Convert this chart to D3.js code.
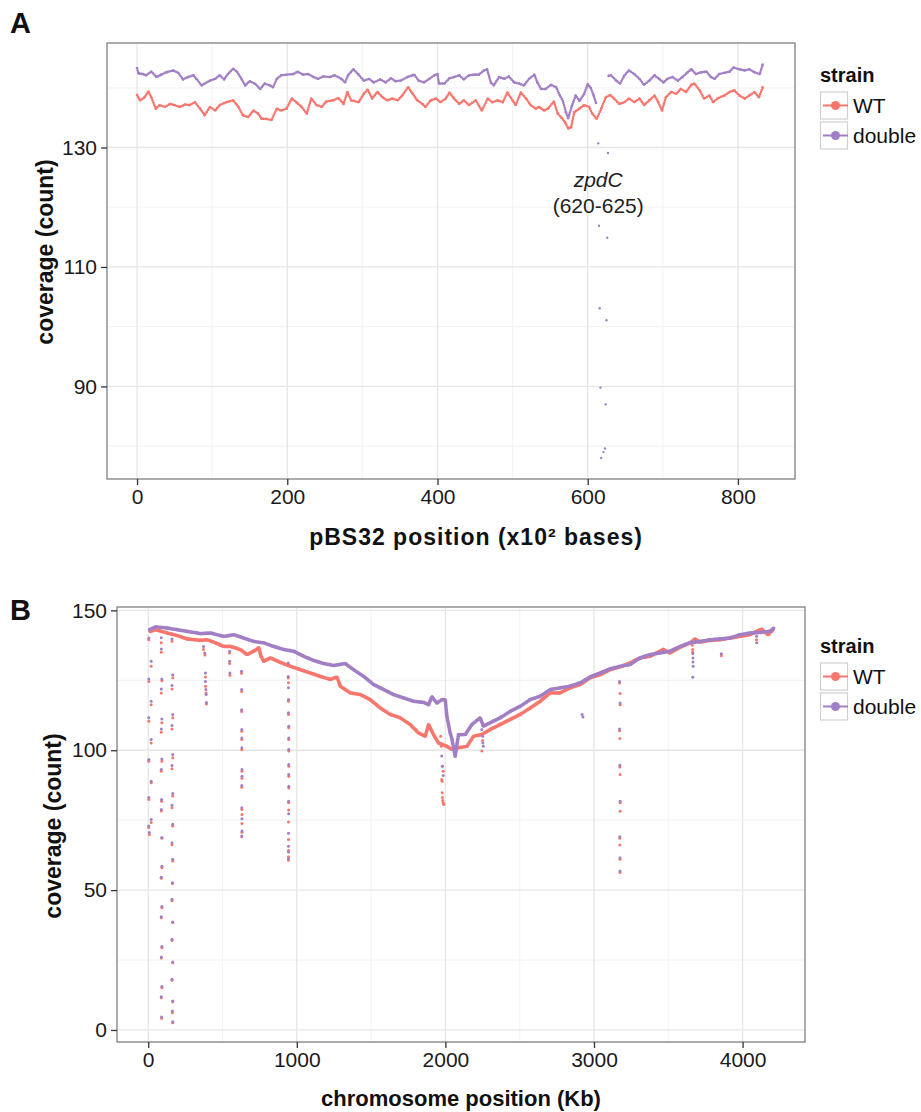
<!DOCTYPE html>
<html>
<head>
<meta charset="utf-8">
<script src="https://cdn.jsdelivr.net/npm/d3@7"></script>
<style>
  body { margin: 0; background: #fff; }
  text { font-family: "Liberation Sans", Arial, Helvetica, sans-serif; }
</style>
</head>
<body>
<svg id="fig" width="921" height="1112"></svg>
<script>
// ---------- shared ----------
const strainNames = ["WT", "double"];
const strainColors = ["#F8766D", "#A27EC4"];

// ---------- panel A: pBS32 plasmid coverage, position in x10^2 bases ----------
const plasmidTicksX = [0, 200, 400, 600, 800];
const plasmidMinorX = [100, 300, 500, 700];
const plasmidTicksY = [90, 110, 130];
const plasmidMinorY = [80, 100, 120, 140];

const plasmidWT = [
  [0,138.8],[4,137.9],[10,138.4],[15,139.4],[19,138.4],[25,136.5],[30,137.1],[37,136.8],[44,137.3],[50,137.1],
  [57,136.8],[64,137.2],[70,137.1],[77,137.6],[84,136.5],[90,135.4],[97,136.8],[104,136.2],[110,137.1],[119,137.6],
  [128,137.9],[135,136.8],[141,135.4],[148,135.1],[155,136.2],[161,135.7],[166,134.8],[172,134.8],[179,134.6],[186,136.5],
  [192,136.2],[199,136.5],[206,138.2],[212,137.6],[219,136.8],[226,135.7],[232,138.2],[239,137.1],[246,136.8],[252,137.7],
  [261,137.9],[268,138.3],[275,137.3],[280,139.3],[285,137.9],[295,137.6],[302,139.0],[307,139.7],[313,138.2],[320,139.3],
  [327,138.4],[333,137.9],[340,138.2],[347,137.9],[353,138.7],[361,140.1],[367,139.0],[373,137.9],[380,137.3],[384,136.8],
  [391,137.9],[398,138.2],[404,137.6],[411,138.2],[416,139.2],[422,138.2],[429,137.3],[435,137.9],[442,137.1],[451,137.9],
  [459,136.2],[467,138.2],[473,137.6],[480,137.9],[487,137.6],[493,139.2],[500,137.9],[504,137.1],[511,139.2],[518,138.2],
  [524,137.1],[531,136.5],[535,136.8],[542,136.2],[547,136.5],[555,137.7],[560,135.7],[565,135.0],[570,134.2],[574,133.2],
  [578,133.4],[582,135.9],[589,136.5],[595,137.1],[602,136.8],[606,135.7],[612,134.8],[618,136.5],[624,138.4],[630,138.8],
  [635,138.2],[642,137.3],[649,137.6],[655,138.2],[662,137.6],[669,138.2],[675,137.1],[682,137.9],[689,138.7],[694,137.6],
  [699,136.2],[704,138.4],[711,139.3],[718,139.0],[724,139.8],[731,139.3],[738,140.5],[742,140.7],[749,139.6],[755,138.2],
  [762,138.7],[767,137.6],[774,138.3],[782,138.7],[789,139.3],[795,139.6],[802,138.7],[809,138.2],[815,138.7],[822,139.3],
  [828,138.4],[833,140.1]
];

const plasmidDouble = [
  [0,143.3],[2,142.4],[8,142.3],[12,142.1],[19,142.7],[26,141.8],[32,142.2],[39,142.6],[48,142.9],[55,142.5],
  [61,141.4],[68,141.8],[75,142.1],[79,141.5],[86,140.4],[90,140.7],[97,141.2],[104,141.5],[110,142.1],[116,141.4],
  [121,142.3],[128,143.2],[133,142.7],[139,141.5],[144,140.4],[150,141.1],[157,140.7],[164,139.8],[170,140.7],[177,140.4],
  [181,140.1],[186,141.5],[192,142.1],[199,142.2],[208,142.3],[214,142.7],[221,142.2],[228,142.3],[235,141.8],[241,141.5],
  [248,141.9],[257,141.8],[263,142.1],[272,141.5],[277,140.9],[281,142.1],[288,143.1],[295,142.2],[302,141.2],[309,141.5],
  [315,140.9],[324,141.4],[331,140.9],[338,141.6],[344,141.1],[351,141.2],[360,141.8],[369,142.2],[375,141.2],[382,140.9],
  [389,141.5],[396,142.1],[400,142.3],[402,140.7],[409,140.7],[416,141.6],[422,141.8],[429,142.1],[435,141.4],[442,142.1],
  [449,142.2],[455,142.2],[462,142.9],[466,143.1],[471,140.9],[475,140.4],[482,141.8],[489,141.5],[495,141.9],[502,140.9],
  [509,140.7],[515,140.4],[522,141.5],[529,142.2],[533,140.9],[538,139.8],[544,139.8],[551,140.5],[558,140.1],[563,138.7],
  [567,137.8],[571,135.9],[574,134.9],[579,137.0],[584,138.7],[589,137.8],[595,138.9],[600,140.6],[604,140.0],[608,138.7],
  [611,137.5],
  [628,142.0],[631,142.1],[638,141.2],[643,140.7],[649,142.1],[655,142.9],[662,142.3],[669,141.5],[675,140.5],[682,141.2],
  [689,142.1],[695,141.5],[701,140.9],[706,141.5],[713,141.8],[720,141.2],[726,141.8],[733,142.6],[738,143.1],[744,142.3],
  [751,142.6],[758,142.7],[764,141.8],[769,141.5],[775,142.3],[782,142.5],[789,142.7],[794,143.4],[802,143.1],[809,142.9],
  [815,143.1],[822,142.6],[829,142.3],[833,143.9]
];

// zpdC deletion: scattered low-coverage reads in the double strain
const plasmidDoubleDip = [
  [614,130.7],[627,129.1],[615,116.9],[626,114.9],[616,103.1],[625,101.1],[617,89.8],[624,87.0],
  [623,79.6],[621,79.0],[618,78.0]
];

// ---------- panel B: chromosome coverage, position in Kb ----------
const chromTicksX = [0, 1000, 2000, 3000, 4000];
const chromMinorX = [500, 1500, 2500, 3500];
const chromTicksY = [0, 50, 100, 150];
const chromMinorY = [25, 75, 125];

const chromWT = [
  [15,142.5],[49,143.1],[128,141.9],[195,141.0],[262,139.8],[352,139.3],[397,139.5],[452,138.4],[508,137.1],[553,137.1],
  [620,136.0],[665,134.2],[710,135.4],[744,136.6],[760,133.5],[777,131.8],[822,133.0],[890,131.4],[957,130.0],[1024,128.8],
  [1091,127.6],[1158,126.4],[1226,125.3],[1270,126.2],[1293,122.9],[1360,120.5],[1427,119.9],[1494,118.1],[1562,115.1],[1629,112.8],
  [1696,111.6],[1763,109.2],[1819,106.2],[1864,105.0],[1887,109.2],[1920,105.6],[1954,102.6],[2010,101.4],[2044,100.3],[2088,100.9],
  [2145,101.4],[2189,105.0],[2245,105.6],[2301,107.4],[2369,109.2],[2436,111.0],[2503,112.8],[2570,115.1],[2638,117.5],[2705,120.5],
  [2772,120.5],[2839,122.3],[2907,123.5],[2974,125.9],[3041,127.0],[3108,128.8],[3175,129.8],[3242,131.2],[3310,133.0],[3377,133.6],
  [3466,136.0],[3511,134.8],[3579,136.8],[3646,138.4],[3680,139.8],[3713,138.6],[3780,139.3],[3847,139.5],[3914,140.1],[3982,140.7],
  [4049,141.3],[4127,143.3],[4172,141.3],[4205,143.1]
];

const chromDouble = [
  [10,143.1],[49,144.1],[128,143.7],[195,143.1],[262,142.5],[352,141.7],[419,141.9],[508,140.7],[576,141.3],[643,140.1],
  [710,138.9],[777,138.4],[845,137.1],[912,136.0],[979,135.4],[1046,133.6],[1113,132.1],[1181,131.0],[1248,130.3],[1326,131.0],
  [1382,128.8],[1450,126.4],[1517,123.5],[1584,121.7],[1651,119.9],[1719,118.7],[1786,117.5],[1853,117.1],[1887,116.3],[1909,119.1],
  [1943,116.9],[1977,118.1],[1999,118.0],[2010,112.1],[2032,106.2],[2044,104.0],[2066,97.9],[2088,105.6],[2133,105.6],[2178,109.2],
  [2234,111.6],[2256,108.6],[2301,109.8],[2369,111.6],[2436,113.9],[2503,115.7],[2570,118.1],[2638,119.3],[2705,121.7],[2772,122.3],
  [2839,122.9],[2907,124.1],[2974,126.2],[3041,127.6],[3108,129.1],[3175,130.0],[3242,130.6],[3310,133.0],[3377,134.2],[3444,134.8],
  [3511,135.4],[3579,137.1],[3646,138.4],[3713,138.9],[3780,139.5],[3847,139.8],[3914,140.1],[3982,141.3],[4049,141.9],[4116,142.1],
  [4183,142.5],[4211,143.7]
];

// low-coverage loci (deletions / repeats) seen in both strains
const chromDipWT = [
  [4,139.5],[20,130.0],[4,124.6],[20,116.3],[4,110.4],[20,102.6],[4,96.1],[20,88.4],[4,82.4],[20,74.2],[4,72.4],[8,69.9],
  [88,138.4],[88,135.0],[92,124.8],[88,120.5],[92,109.8],[88,106.4],[92,96.1],[88,92.5],[90,81.8],[88,78.3],[92,68.5],[92,58.0],
  [88,54.2],[92,43.7],[88,40.1],[92,29.4],[88,25.7],[92,15.1],[88,11.5],[90,4.2],
  [160,139.0],[165,125.9],[160,121.9],[165,111.6],[160,107.6],[165,97.3],[160,93.4],[165,83.6],[160,79.4],[165,72.9],[160,66.2],
  [165,60.4],[163,52.4],[160,46.2],[165,38.4],[160,32.0],[165,24.0],[160,17.8],[165,10.1],[163,6.2],[165,2.6],
  [372,136.0],[382,134.0],[385,126.2],[386,122.9],[388,120.5],[392,116.5],
  [548,134.8],[548,131.0],[550,126.8],
  [628,127.5],[629,121.0],[629,113.8],[630,106.8],[630,103.8],[630,100.2],[631,92.5],[631,90.0],[630,86.8],[630,78.8],
  [631,77.0],[631,73.8],[631,70.7],[630,69.1],
  [942,130.5],[942,125.8],[944,124.1],[944,117.5],[944,112.8],[946,108.0],[946,103.8],[946,99.7],[946,94.3],[946,90.7],
  [946,86.5],[945,81.2],[945,78.6],[944,74.3],[944,68.1],[944,64.2],[944,61.9],[944,60.7],
  [1968,105.0],[1972,101.4],[1980,94.3],[1985,92.5],[1978,88.9],[1975,89.5],[1978,84.8],[1980,83.1],[1982,82.0],[1985,81.2],[1988,80.6],
  [2245,99.7],[2250,103.5],
  [3172,124.0],[3176,120.3],[3176,116.3],[3172,107.0],[3174,104.2],[3174,94.0],[3176,91.3],[3176,81.2],[3176,78.2],[3174,68.5],
  [3174,66.1],[3175,61.0],[3175,56.3],
  [3662,137.5],[3664,136.0],[3664,135.0],
  [3857,133.8],
  [4094,139.5]
];

const chromDipDouble = [
  [4,140.1],[20,131.8],[4,125.5],[20,117.5],[4,111.6],[20,103.8],[4,96.7],[20,88.9],[4,83.1],[20,75.2],[4,72.9],[8,70.6],
  [88,140.2],[88,136.2],[92,125.5],[88,121.9],[92,111.2],[88,107.6],[92,96.9],[88,93.1],[90,82.4],[88,78.8],[92,68.8],[92,58.5],
  [88,54.6],[92,44.1],[88,40.5],[92,29.8],[88,26.1],[92,15.5],[88,11.9],[90,4.6],
  [160,139.8],[165,127.0],[160,123.1],[165,112.8],[160,108.8],[165,98.5],[160,94.5],[165,84.5],[160,80.3],[165,73.5],[160,66.9],
  [165,61.0],[163,52.6],[160,46.7],[165,38.6],[160,32.4],[165,24.3],[160,18.1],[165,10.4],[163,6.8],[165,2.9],
  [372,137.1],[380,134.8],[385,127.6],[385,124.6],[388,121.7],[390,119.9],[392,117.1],
  [548,135.4],[548,131.8],[550,127.6],
  [628,128.2],[629,121.7],[629,114.5],[630,107.4],[630,104.4],[630,100.9],[631,93.1],[631,90.7],[630,87.4],[630,79.4],
  [631,75.5],[631,71.1],[630,69.3],
  [942,131.2],[942,126.4],[944,122.3],[944,118.1],[944,113.4],[946,108.6],[946,104.4],[946,100.3],[946,94.9],[946,91.3],
  [946,87.1],[945,81.8],[945,77.3],[944,70.3],[944,65.7],[944,63.6],[944,61.2],
  [1975,97.9],[1980,94.3],[1985,91.0],
  [2245,107.4],[2250,105.0],[2252,102.6],[2255,101.4],
  [2920,112.8],[2926,111.9],
  [3172,124.6],[3176,116.9],[3172,107.6],[3174,94.6],[3176,81.8],[3174,69.1],[3175,61.6],[3175,56.8],
  [3665,134.5],[3666,133.0],[3666,131.5],[3667,130.0],[3665,126.1],
  [3857,134.5],
  [4094,140.7],[4095,138.4]
];

// ---------- drawing ----------
const svg = d3.select("#fig");
svg.append("rect").attr("width", 921).attr("height", 1112).attr("fill", "#fff");

function drawPanel(cfg) {
  const g = svg.append("g");
  const x = d3.scaleLinear().domain(cfg.xDomain).range([cfg.left, cfg.right]);
  const y = d3.scaleLinear().domain(cfg.yDomain).range([cfg.bottom, cfg.top]);

  // grid
  const grid = g.append("g");
  cfg.xMinor.forEach(v => grid.append("line").attr("x1", x(v)).attr("x2", x(v))
    .attr("y1", cfg.top).attr("y2", cfg.bottom).attr("stroke", "#f4f4f4").attr("stroke-width", 1.2));
  cfg.yMinor.forEach(v => grid.append("line").attr("y1", y(v)).attr("y2", y(v))
    .attr("x1", cfg.left).attr("x2", cfg.right).attr("stroke", "#f4f4f4").attr("stroke-width", 1.2));
  cfg.xTicks.forEach(v => grid.append("line").attr("x1", x(v)).attr("x2", x(v))
    .attr("y1", cfg.top).attr("y2", cfg.bottom).attr("stroke", "#e6e6e6").attr("stroke-width", 1.3));
  cfg.yTicks.forEach(v => grid.append("line").attr("y1", y(v)).attr("y2", y(v))
    .attr("x1", cfg.left).attr("x2", cfg.right).attr("stroke", "#e6e6e6").attr("stroke-width", 1.3));

  // data
  const clipId = "clip" + cfg.id;
  g.append("clipPath").attr("id", clipId).append("rect")
    .attr("x", cfg.left).attr("y", cfg.top).attr("width", cfg.right - cfg.left).attr("height", cfg.bottom - cfg.top);
  const data = g.append("g").attr("clip-path", `url(#${clipId})`);

  cfg.series.forEach(s => {
    // continuous runs of the coverage track, broken at gaps
    const line = d3.line().x(d => x(d[0])).y(d => y(d[1]));
    const runs = [];
    let run = [];
    s.track.forEach((d, i) => {
      if (i > 0 && d[0] - s.track[i - 1][0] > cfg.gap) { runs.push(run); run = []; }
      run.push(d);
    });
    if (run.length) runs.push(run);
    runs.forEach(r => data.append("path").attr("d", line(r))
      .attr("fill", "none").attr("stroke", s.color)
      .attr("stroke-width", cfg.trackWidth).attr("stroke-linecap", "round")
      .attr("stroke-linejoin", "round").attr("stroke-dasharray", cfg.dash));
    data.append("g").selectAll("circle").data(s.track).join("circle")
      .attr("cx", d => x(d[0])).attr("cy", d => y(d[1])).attr("r", cfg.r).attr("fill", s.color);
    data.append("g").selectAll("circle").data(s.extra).join("circle")
      .attr("cx", d => x(d[0])).attr("cy", d => y(d[1])).attr("r", cfg.r).attr("fill", s.color);
  });

  // border
  g.append("rect").attr("x", cfg.left).attr("y", cfg.top)
    .attr("width", cfg.right - cfg.left).attr("height", cfg.bottom - cfg.top)
    .attr("fill", "none").attr("stroke", "#7f7f7f").attr("stroke-width", 1.3);

  // axes
  const ax = g.append("g").attr("transform", `translate(0,${cfg.bottom})`)
    .call(d3.axisBottom(x).tickValues(cfg.xTicks).tickSize(6).tickPadding(4).tickFormat(d3.format("d")));
  const ay = g.append("g").attr("transform", `translate(${cfg.left},0)`)
    .call(d3.axisLeft(y).tickValues(cfg.yTicks).tickSize(6).tickPadding(4).tickFormat(d3.format("d")));
  [ax, ay].forEach(a => {
    a.select(".domain").remove();
    a.selectAll(".tick line").attr("stroke", "#333").attr("stroke-width", 1.3);
    a.selectAll(".tick text").attr("font-size", 21).attr("fill", "#1a1a1a")
      .attr("font-family", "Liberation Sans, Arial, sans-serif");
  });

  // titles
  g.append("text").attr("x", cfg.xTitleX).attr("y", cfg.xTitleY)
    .attr("text-anchor", "middle").attr("font-size", cfg.xTitleSize).attr("font-weight", "bold").attr("fill", "#111")
    .attr("letter-spacing", cfg.xTitleSpacing)
    .text(cfg.xTitle);
  g.append("text").attr("transform", `translate(${cfg.yTitleX},${cfg.yTitleY}) rotate(-90)`)
    .attr("text-anchor", "middle").attr("font-size", 23).attr("font-weight", "bold").attr("fill", "#111")
    .text("coverage (count)");
  g.append("text").attr("x", 10).attr("y", cfg.letterY).attr("font-size", 29).attr("font-weight", "bold")
    .attr("fill", "#111").text(cfg.letter);

  // legend
  const lg = g.append("g").attr("transform", `translate(${cfg.legendX},${cfg.legendY})`);
  lg.append("text").attr("x", 0).attr("y", 0).attr("font-size", 20).attr("font-weight", "bold")
    .attr("fill", "#111").text("strain");
  strainNames.forEach((name, i) => {
    const ky = 10 + i * 30;
    lg.append("rect").attr("x", 0.5).attr("y", ky).attr("width", 27).attr("height", 27)
      .attr("fill", "#fff").attr("stroke", "#d0d0d0").attr("stroke-width", 1.2);
    lg.append("line").attr("x1", 3).attr("x2", 28).attr("y1", ky + 13.5).attr("y2", ky + 13.5)
      .attr("stroke", strainColors[i]).attr("stroke-width", 2);
    lg.append("circle").attr("cx", 15.5).attr("cy", ky + 13.5).attr("r", 4.5).attr("fill", strainColors[i]);
    lg.append("text").attr("x", 33).attr("y", ky + 20.5).attr("font-size", 21).attr("fill", "#111").text(name);
  });

  return { x, y, g };
}

const pA = drawPanel({
  id: "A", letter: "A", letterY: 33,
  left: 107, right: 795, top: 43, bottom: 479,
  xDomain: [-40, 876], yDomain: [74.5, 147.5],
  xTicks: plasmidTicksX, xMinor: plasmidMinorX, yTicks: plasmidTicksY, yMinor: plasmidMinorY,
  xTitle: "pBS32 position (x10\u00B2 bases)", xTitleX: 476, xTitleY: 545, xTitleSize: 23, xTitleSpacing: 1,
  yTitleX: 53, yTitleY: 252,
  legendX: 820, legendY: 82,
  gap: 10, trackWidth: 2.6, dash: "0 2.2", r: 1.2,
  series: [
    { color: strainColors[0], track: plasmidWT, extra: [] },
    { color: strainColors[1], track: plasmidDouble, extra: plasmidDoubleDip }
  ]
});

// gene label for the deleted region
const zl = pA.g.append("text").attr("text-anchor", "middle").attr("font-size", 21).attr("fill", "#222");
zl.append("tspan").attr("x", pA.x(614)).attr("y", 187).attr("font-style", "italic").text("zpdC");
zl.append("tspan").attr("x", pA.x(614)).attr("y", 213).text("(620-625)");

drawPanel({
  id: "B", letter: "B", letterY: 620,
  left: 117, right: 805, top: 607, bottom: 1042,
  xDomain: [-210, 4420], yDomain: [-4.3, 151.2],
  xTicks: chromTicksX, xMinor: chromMinorX, yTicks: chromTicksY, yMinor: chromMinorY,
  xTitle: "chromosome position (Kb)", xTitleX: 461, xTitleY: 1106, xTitleSize: 22, xTitleSpacing: 0,
  yTitleX: 61, yTitleY: 826,
  legendX: 820, legendY: 653,
  gap: 100, trackWidth: 3.8, dash: "0 1.8", r: 1.5,
  series: [
    { color: strainColors[0], track: chromWT, extra: chromDipWT },
    { color: strainColors[1], track: chromDouble, extra: chromDipDouble }
  ]
});
</script>
</body>
</html>
